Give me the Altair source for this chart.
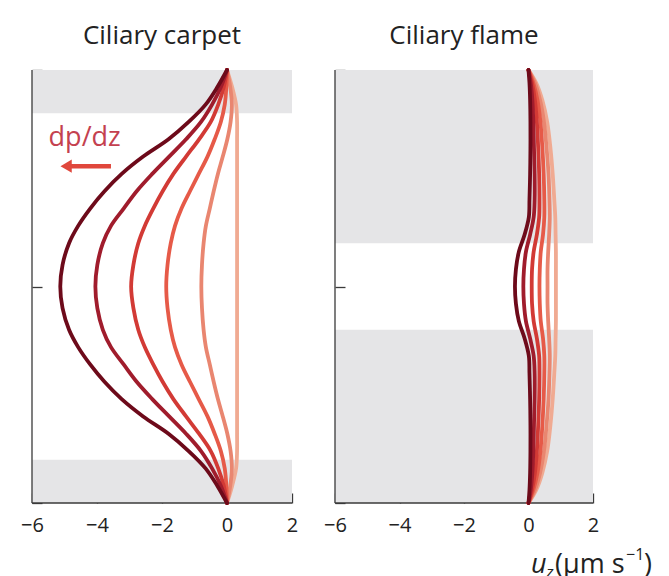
import altair as alt
import pandas as pd

FONT = "Open Sans"
GREY = "#e5e5e7"
AXIS_COLOR = "#3a3a3a"
TEXT_COLOR = "#222222"

# ---- axis definitions ----
x_domain = [-6, 2]
y_domain = [0, 1]
x_tick_values = [-6, -4, -2, 0, 2]
y_tick_values = [0, 0.5, 1]

# ---- curves: ordered light -> dark (darkest drawn last) ----
curve_names = ["k6", "k5", "k4", "k3", "k2", "k1"]
curve_colors = ["#f0aa92", "#e98670", "#e65a48", "#d23a35", "#a01c2c", "#6d0a1a"]

# ---- Ciliary carpet ----
carpet_y = [0, 0.04, 0.08, 0.12, 0.16, 0.20, 0.24, 0.28, 0.32, 0.36, 0.40, 0.45, 0.50,
            0.55, 0.60, 0.64, 0.68, 0.72, 0.76, 0.80, 0.84, 0.88, 0.92, 0.96, 1.0]
carpet_k1 = [0, -0.30, -0.66, -1.18, -1.80, -2.58, -3.24, -3.77, -4.21, -4.58, -4.86, -5.06, -5.13,
             -5.06, -4.86, -4.58, -4.21, -3.77, -3.24, -2.58, -1.80, -1.18, -0.66, -0.30, 0]
carpet_k2 = [0, -0.19, -0.46, -0.80, -1.26, -1.78, -2.30, -2.78, -3.18, -3.57, -3.82, -3.99, -4.05,
             -3.99, -3.82, -3.57, -3.18, -2.78, -2.30, -1.78, -1.26, -0.80, -0.46, -0.19, 0]
carpet_k3 = [0, -0.10, -0.27, -0.50, -0.86, -1.26, -1.65, -1.98, -2.27, -2.53, -2.73, -2.88, -2.95,
             -2.88, -2.73, -2.53, -2.27, -1.98, -1.65, -1.26, -0.86, -0.50, -0.27, -0.10, 0]
carpet_k4 = [0, -0.02, -0.07, -0.19, -0.38, -0.60, -0.87, -1.14, -1.40, -1.60, -1.73, -1.83, -1.87,
             -1.83, -1.73, -1.60, -1.40, -1.14, -0.87, -0.60, -0.38, -0.19, -0.07, -0.02, 0]
carpet_k5 = [0, 0.10, 0.15, 0.11, 0.01, -0.13, -0.28, -0.41, -0.53, -0.65, -0.72, -0.77, -0.79,
             -0.77, -0.72, -0.65, -0.53, -0.41, -0.28, -0.13, 0.01, 0.11, 0.15, 0.10, 0]
carpet_k6 = [0, 0.16, 0.28, 0.31, 0.31, 0.31, 0.31, 0.31, 0.31, 0.31, 0.31, 0.31, 0.31,
             0.31, 0.31, 0.31, 0.31, 0.31, 0.31, 0.31, 0.31, 0.31, 0.28, 0.16, 0]
carpet_band_y0 = [0.0, 0.9]
carpet_band_y1 = [0.1, 1.0]

# ---- Ciliary flame ----
flame_y = [0, 0.03, 0.07, 0.12, 0.18, 0.24, 0.30, 0.34, 0.38, 0.42, 0.46, 0.50,
           0.54, 0.58, 0.62, 0.66, 0.70, 0.76, 0.82, 0.88, 0.93, 0.97, 1.0]
flame_k1 = [0, 0.03, 0.05, 0.06, 0.06, 0.05, 0.03, 0.01, -0.12, -0.30, -0.39, -0.42,
            -0.39, -0.30, -0.12, 0.01, 0.03, 0.05, 0.06, 0.06, 0.05, 0.03, 0]
flame_k2 = [0, 0.07, 0.12, 0.15, 0.17, 0.19, 0.19, 0.16, 0.05, -0.08, -0.14, -0.16,
            -0.14, -0.08, 0.05, 0.16, 0.19, 0.19, 0.17, 0.15, 0.12, 0.07, 0]
flame_k3 = [0, 0.11, 0.20, 0.26, 0.30, 0.33, 0.34, 0.33, 0.26, 0.16, 0.11, 0.10,
            0.11, 0.16, 0.26, 0.33, 0.34, 0.33, 0.30, 0.26, 0.20, 0.11, 0]
flame_k4 = [0, 0.15, 0.28, 0.37, 0.43, 0.47, 0.49, 0.49, 0.45, 0.38, 0.35, 0.34,
            0.35, 0.38, 0.45, 0.49, 0.49, 0.47, 0.43, 0.37, 0.28, 0.15, 0]
flame_k5 = [0, 0.20, 0.36, 0.48, 0.56, 0.62, 0.65, 0.66, 0.64, 0.61, 0.59, 0.59,
            0.59, 0.61, 0.64, 0.66, 0.65, 0.62, 0.56, 0.48, 0.36, 0.20, 0]
flame_k6 = [0, 0.24, 0.43, 0.58, 0.68, 0.75, 0.80, 0.83, 0.84, 0.85, 0.85, 0.85,
            0.85, 0.85, 0.84, 0.83, 0.80, 0.75, 0.68, 0.58, 0.43, 0.24, 0]
flame_band_y0 = [0.0, 0.6]
flame_band_y1 = [0.4, 1.0]

PLOT_H = 433


def build_lines(ys, curves):
    rows = []
    for name, xs in zip(curve_names, curves):
        for i, (y, x) in enumerate(zip(ys, xs)):
            rows.append({"curve": name, "i": i, "y": y, "x": x})
    return pd.DataFrame(rows)


X_SCALE = alt.Scale(domain=x_domain, nice=False, zero=False)
Y_SCALE = alt.Scale(domain=y_domain, nice=False, zero=False)
X_AXIS = alt.Axis(values=x_tick_values, title=None, grid=False, domain=False,
                  tickSize=10, offset=-10, labelPadding=12, labelFlush=False,
                  labelFontSize=20, labelFont=FONT, labelColor=TEXT_COLOR,
                  tickColor=AXIS_COLOR, tickWidth=1.3)
Y_AXIS = alt.Axis(values=y_tick_values, title=None, grid=False, domain=False,
                  labels=False, tickSize=10, offset=-10,
                  tickColor=AXIS_COLOR, tickWidth=1.3)


def xe(field):
    return alt.X(field, type="quantitative", scale=X_SCALE, axis=X_AXIS)


def ye(field):
    return alt.Y(field, type="quantitative", scale=Y_SCALE, axis=Y_AXIS)


def free_text(text, px, py, size, italic=False, align="left", color=TEXT_COLOR):
    return alt.Chart(pd.DataFrame({"a": [0]})).mark_text(
        text=text, fontSize=size, font=FONT, color=color, align=align,
        baseline="alphabetic", fontStyle="italic" if italic else "normal").encode(
        x=alt.value(px), y=alt.value(py))


def panel(title, ys, curves, band_y0, band_y1, extras, width):
    band_df = pd.DataFrame({"x0": [x_domain[0]] * len(band_y0),
                            "x1": [x_domain[1]] * len(band_y0),
                            "y0": band_y0, "y1": band_y1})
    bands = alt.Chart(band_df).mark_rect(color=GREY).encode(
        x=xe("x0"), x2="x1", y=ye("y0"), y2="y1")

    frame_df = pd.DataFrame({"xa": [x_domain[0], x_domain[0]],
                             "xb": [x_domain[0], x_domain[1]],
                             "ya": [y_domain[0], y_domain[0]],
                             "yb": [y_domain[1], y_domain[0]]})
    frame = alt.Chart(frame_df).mark_rule(color=AXIS_COLOR, strokeWidth=1.3).encode(
        x=xe("xa"), x2="xb", y=ye("ya"), y2="yb")

    lines = alt.Chart(build_lines(ys, curves)).mark_line(
        strokeWidth=3.8, interpolate="catmull-rom", strokeCap="round").encode(
        x=xe("x"), y=ye("y"),
        color=alt.Color("curve:N", scale=alt.Scale(domain=curve_names, range=curve_colors),
                        legend=None),
        order="i:Q")

    head_text = free_text(title, width / 2, -26, 26, align="center")

    layers = [bands, frame, lines, head_text] + extras
    return alt.layer(*layers).properties(width=width, height=PLOT_H)


# annotation (carpet): pressure-gradient label and arrow
note_df = pd.DataFrame({"x": [-4.38], "y": [0.824], "t": ["dp/dz"]})
note = alt.Chart(note_df).mark_text(fontSize=27, font=FONT, color="#c4414f",
                                    baseline="alphabetic").encode(
    x=xe("x"), y=ye("y"), text="t:N")
arrow_df = pd.DataFrame({"xa": [-4.9], "xb": [-3.57], "y": [0.778]})
shaft = alt.Chart(arrow_df).mark_rule(color="#e0473c", strokeWidth=4.5).encode(
    x=xe("xa"), x2="xb", y=ye("y"))
head_df = pd.DataFrame({"x": [-4.95], "y": [0.778]})
head = alt.Chart(head_df).mark_point(shape="triangle-left", filled=True, size=170,
                                     color="#e0473c", opacity=1).encode(
    x=xe("x"), y=ye("y"))

# unit label (flame panel) built from pieces for subscript / superscript
unit = [
    free_text("u", 196, 503, 27, True),
    free_text("z", 211, 508, 17, True),
    free_text("(µm s", 220, 503, 27),
    free_text("−1", 291, 490, 16),
    free_text(")", 309, 503, 27),
]

left = panel("Ciliary carpet", carpet_y,
             [carpet_k6, carpet_k5, carpet_k4, carpet_k3, carpet_k2, carpet_k1],
             carpet_band_y0, carpet_band_y1, [note, shaft, head], 260)
right = panel("Ciliary flame", flame_y,
              [flame_k6, flame_k5, flame_k4, flame_k3, flame_k2, flame_k1],
              flame_band_y0, flame_band_y1, unit, 258)

chart = alt.hconcat(left, right, spacing=25).properties(
    padding={"left": 12, "top": 15, "right": 0, "bottom": 0}
).configure_view(stroke=None)

chart.save("out.html", embed_options={"renderer": "svg", "actions": False})
